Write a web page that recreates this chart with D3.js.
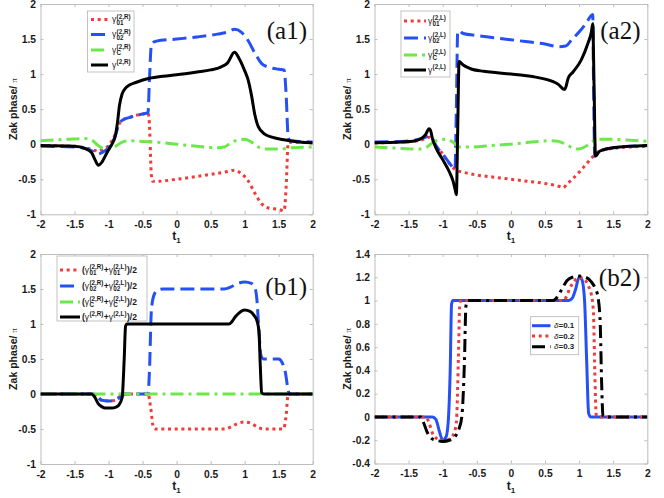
<!DOCTYPE html>
<html>
<head>
<meta charset="utf-8">
<script src="https://cdn.jsdelivr.net/npm/d3@7"></script>
<style>
  body { margin: 0; background: #fff; }
  svg { display: block; }
  .tick text { font-family: "Liberation Sans", Arial, sans-serif; font-weight: bold; font-size: 10.3px; fill: #1a1a1a; }
  .domain, .tick line { stroke: #bdbdbd; }
</style>
</head>
<body>
<script>
// ---- tick labels ----
const xTicks = [-2, -1.5, -1, -0.5, 0, 0.5, 1, 1.5, 2];
const yTicksA = [-1, -0.5, 0, 0.5, 1, 1.5, 2];
const yTicksB2 = [-0.4, -0.2, 0, 0.2, 0.4, 0.6, 0.8, 1, 1.2, 1.4];

// ---- (a1) gamma^(2,R) ----
const a1T01 = [-2, -1.5, -1.3, -1.2, -1.15, -1.1, -1.0, -0.95, -0.9, -0.85, -0.8, -0.7, -0.6, -0.5, -0.42, -0.4, -0.37, -0.35, -0.3, 0, 0.5, 0.75, 0.85, 0.95, 1.05, 1.15, 1.25, 1.35, 1.5, 1.58, 1.61, 1.64, 1.7, 2];
const a1V01 = [-0.02, -0.03, -0.06, -0.09, -0.1, -0.08, -0.02, 0.05, 0.15, 0.28, 0.34, 0.38, 0.41, 0.43, 0.45, 0.3, -0.45, -0.53, -0.53, -0.5, -0.43, -0.39, -0.37, -0.42, -0.52, -0.7, -0.85, -0.91, -0.93, -0.95, -0.6, 0.02, 0.03, 0.02];
const a1T02 = [-2, -1.5, -1.3, -1.2, -1.15, -1.1, -1.0, -0.95, -0.9, -0.85, -0.8, -0.7, -0.6, -0.5, -0.42, -0.4, -0.37, -0.33, -0.3, 0, 0.3, 0.6, 0.75, 0.85, 0.95, 1.05, 1.15, 1.25, 1.35, 1.5, 1.58, 1.61, 1.64, 1.67, 1.8, 2];
const a1V02 = [-0.03, -0.04, -0.07, -0.12, -0.14, -0.12, -0.05, 0.02, 0.12, 0.28, 0.34, 0.38, 0.41, 0.43, 0.45, 0.9, 1.42, 1.46, 1.47, 1.5, 1.53, 1.57, 1.6, 1.64, 1.6, 1.48, 1.3, 1.15, 1.1, 1.07, 1.06, 0.7, 0.1, 0.05, 0.04, 0.03];
const a1TC = [-2, -1.6, -1.35, -1.25, -1.15, -1.05, -1.0, -0.9, -0.8, -0.7, -0.5, -0.3, 0, 0.3, 0.6, 0.7, 0.8, 0.9, 1.0, 1.1, 1.2, 1.3, 1.5, 1.7, 2];
const a1VC = [0.05, 0.07, 0.08, 0.06, -0.02, -0.07, -0.07, -0.03, 0.03, 0.05, 0.04, 0.03, 0.0, -0.03, -0.05, -0.04, 0.02, 0.06, 0.07, 0.03, -0.04, -0.07, -0.07, -0.05, -0.04];
const a1T = [-2, -1.5, -1.35, -1.25, -1.2, -1.15, -1.1, -1.05, -1.0, -0.95, -0.9, -0.87, -0.84, -0.8, -0.75, -0.7, -0.6, -0.4, -0.2, 0, 0.3, 0.5, 0.65, 0.75, 0.85, 0.92, 1.0, 1.05, 1.1, 1.15, 1.2, 1.3, 1.4, 1.6, 1.8, 2];
const a1V = [-0.02, -0.03, -0.06, -0.12, -0.22, -0.3, -0.26, -0.17, -0.08, 0.0, 0.12, 0.3, 0.55, 0.72, 0.8, 0.84, 0.88, 0.94, 0.97, 0.99, 1.03, 1.06, 1.1, 1.16, 1.31, 1.22, 1.05, 0.92, 0.7, 0.42, 0.25, 0.14, 0.1, 0.06, 0.03, 0.02];

// ---- (a2) gamma^(2,L) ----
const a2T01 = [-2, -1.6, -1.35, -1.25, -1.2, -1.15, -1.1, -1.0, -0.9, -0.8, -0.7, -0.5, -0.25, 0, 0.25, 0.5, 0.7, 0.77, 0.82, 0.9, 1.0, 1.1, 1.2, 1.3, 1.5, 2];
const a2V01 = [0.02, 0.03, 0.05, 0.08, 0.1, 0.06, -0.02, -0.14, -0.28, -0.37, -0.4, -0.44, -0.47, -0.5, -0.53, -0.56, -0.6, -0.62, -0.57, -0.5, -0.4, -0.29, -0.18, -0.1, -0.06, -0.03];
const a2T02 = [-2, -1.6, -1.35, -1.25, -1.2, -1.15, -1.1, -1.0, -0.9, -0.82, -0.8, -0.78, -0.76, -0.7, -0.5, -0.25, 0, 0.25, 0.5, 0.7, 0.8, 0.9, 1.0, 1.1, 1.2, 1.21, 1.23, 1.25, 1.3, 1.5, 2];
const a2V02 = [0.03, 0.04, 0.07, 0.1, 0.12, 0.08, -0.02, -0.14, -0.27, -0.36, 0.5, 1.6, 1.62, 1.58, 1.55, 1.52, 1.49, 1.46, 1.43, 1.39, 1.4, 1.5, 1.6, 1.72, 1.85, 1.0, -0.17, -0.15, -0.1, -0.05, -0.02];
const a2TC = [-2, -1.6, -1.35, -1.25, -1.15, -1.05, -0.95, -0.85, -0.75, -0.6, -0.3, 0, 0.3, 0.6, 0.7, 0.8, 0.9, 1.0, 1.1, 1.2, 1.3, 1.5, 1.7, 2];
const a2VC = [-0.04, -0.06, -0.07, -0.05, 0.02, 0.06, 0.07, 0.03, -0.04, -0.04, -0.02, 0.0, 0.03, 0.05, 0.04, 0.0, -0.05, -0.07, -0.03, 0.04, 0.07, 0.07, 0.06, 0.04];
const a2T = [-2, -1.6, -1.4, -1.3, -1.25, -1.2, -1.18, -1.15, -1.1, -1.0, -0.9, -0.85, -0.81, -0.8, -0.78, -0.76, -0.7, -0.6, -0.4, -0.2, 0, 0.2, 0.4, 0.6, 0.7, 0.78, 0.8, 0.84, 0.91, 1.03, 1.13, 1.18, 1.2, 1.22, 1.24, 1.3, 1.5, 2];
const a2V = [0.02, 0.03, 0.05, 0.09, 0.14, 0.22, 0.2, 0.08, -0.05, -0.22, -0.4, -0.52, -0.68, -0.72, 0.2, 1.18, 1.13, 1.08, 1.04, 1.02, 1.0, 0.98, 0.95, 0.9, 0.85, 0.78, 0.8, 0.94, 1.03, 1.2, 1.44, 1.6, 1.72, 0.8, -0.17, -0.1, -0.05, -0.02];

// ---- (b1) averages (R+L)/2 ----
const b1T01 = [-2, -1.25, -1.2, -1.15, -1.1, -1.0, -0.9, -0.85, -0.8, -0.75, -0.42, -0.38, -0.34, -0.3, 0.7, 0.8, 0.9, 1.0, 1.1, 1.2, 1.3, 1.57, 1.61, 1.64, 1.7, 2];
const b1V01 = [0, 0, -0.01, -0.05, -0.09, -0.1, -0.09, -0.05, -0.01, 0, 0, -0.2, -0.48, -0.5, -0.5, -0.47, -0.42, -0.4, -0.42, -0.48, -0.5, -0.5, -0.3, 0, 0, 0];
const b1T02 = [-2, -1.22, -1.15, -1.1, -1.0, -0.9, -0.85, -0.8, -0.75, -0.42, -0.4, -0.37, -0.33, -0.28, -0.2, 0.7, 0.8, 0.9, 1.0, 1.1, 1.15, 1.18, 1.21, 1.24, 1.28, 1.5, 1.55, 1.6, 1.64, 1.66, 2];
const b1V02 = [0, 0, -0.05, -0.09, -0.1, -0.09, -0.06, -0.02, 0, 0, 0.3, 1.2, 1.42, 1.48, 1.5, 1.5, 1.53, 1.58, 1.6, 1.58, 1.52, 1.35, 0.9, 0.55, 0.5, 0.5, 0.45, 0.3, 0.05, 0, 0];
const b1TC = [-2, 2];
const b1VC = [0, 0];
const b1T = [-2, -1.25, -1.2, -1.15, -1.1, -1.05, -1.0, -0.95, -0.9, -0.85, -0.8, -0.77, -0.75, -0.73, 0.72, 0.77, 0.81, 0.86, 0.92, 1.0, 1.08, 1.14, 1.18, 1.21, 1.23, 1.25, 1.28, 2];
const b1V = [0, 0, -0.05, -0.14, -0.18, -0.2, -0.2, -0.2, -0.19, -0.16, -0.05, 0.5, 0.97, 1.0, 1.0, 1.0, 1.03, 1.1, 1.16, 1.2, 1.18, 1.12, 1.05, 0.9, 0.4, 0.02, 0, 0];

// ---- (b2) gamma for several delta ----
const b2T1 = [-2, -1.15, -1.1, -1.05, -1.0, -0.95, -0.92, -0.89, -0.87, -0.85, 0.85, 0.9, 0.95, 1.0, 1.04, 1.08, 1.11, 1.14, 1.17, 2];
const b2V1 = [0, 0, -0.02, -0.12, -0.2, -0.17, -0.05, 0.4, 0.97, 1.0, 1.0, 1.02, 1.1, 1.2, 1.18, 1.0, 0.5, 0.03, 0, 0];
const b2T2 = [-2, -1.25, -1.2, -1.15, -1.1, -1.05, -1.0, -0.95, -0.9, -0.85, -0.8, -0.77, -0.75, -0.73, 0.72, 0.77, 0.81, 0.86, 0.92, 1.0, 1.08, 1.14, 1.18, 1.21, 1.23, 1.25, 1.28, 2];
const b2V2 = [0, 0, -0.05, -0.14, -0.18, -0.2, -0.2, -0.2, -0.19, -0.16, -0.05, 0.5, 0.97, 1.0, 1.0, 1.0, 1.03, 1.1, 1.16, 1.2, 1.18, 1.12, 1.05, 0.9, 0.4, 0.02, 0, 0];
const b2T3 = [-2, -1.32, -1.28, -1.22, -1.15, -1.1, -1.0, -0.9, -0.82, -0.76, -0.72, -0.68, -0.66, -0.63, 0.62, 0.68, 0.75, 0.82, 0.9, 1.0, 1.1, 1.18, 1.24, 1.28, 1.31, 1.33, 1.35, 1.38, 2];
const b2V3 = [0, 0, -0.05, -0.14, -0.19, -0.2, -0.21, -0.2, -0.17, -0.1, 0.0, 0.5, 0.95, 1.0, 1.0, 1.03, 1.1, 1.17, 1.2, 1.21, 1.2, 1.16, 1.1, 1.02, 0.8, 0.3, 0.01, 0, 0];

// ---- styles ----
const RED = '#f23a3a', BLUE = '#2450f5', GREEN = '#6ce84a', BLACK = '#000';
const DOT = '3,3.7', DASH = '14,6', DASHDOT = '13,5,3,5';
const FONT = '"Liberation Sans", Arial, sans-serif';

const W = 664, H = 498;
const svg = d3.select('body').append('svg').attr('width', W).attr('height', H);

// legend label pieces
const sub = (sup, sb) => ({ sup, sub: sb });
const gam = { t: 'γ', plain: true };
const lblRL = (s) => [{ t: '(' }, gam, sub('(2,R)', s), { t: '+' }, gam, sub('(2,L)', s), { t: ')/2' }];

const panels = [
  {
    box: [40.5, 312.7, 4, 214.3], y: [-1, 2], yTicks: yTicksA, tag: '(a1)', tagPos: [307, 38.5],
    series: [
      { t: a1T01, v: a1V01, c: RED, d: DOT, lbl: [gam, sub('(2,R)', '01')] },
      { t: a1T02, v: a1V02, c: BLUE, d: DASH, lbl: [gam, sub('(2,R)', '02')] },
      { t: a1TC, v: a1VC, c: GREEN, d: DASHDOT, lbl: [gam, sub('(2,R)', 'C')] },
      { t: a1T, v: a1V, c: BLACK, d: null, lbl: [gam, sub('(2,R)', null)] },
    ],
    legend: { box: [87.5, 134, 11, 72], line: [91, 108], tx: 112, rows: [19.5, 34.5, 50, 65], fs: 8.5 },
  },
  {
    box: [374.5, 647.3, 4, 214.3], y: [-1, 2], yTicks: yTicksA, tag: '(a2)', tagPos: [640.5, 38.5],
    series: [
      { t: a2T01, v: a2V01, c: RED, d: DOT, lbl: [gam, sub('(2,L)', '01')] },
      { t: a2T02, v: a2V02, c: BLUE, d: DASH, lbl: [gam, sub('(2,L)', '02')] },
      { t: a2TC, v: a2VC, c: GREEN, d: DASHDOT, lbl: [gam, sub('(2,L)', 'C')] },
      { t: a2T, v: a2V, c: BLACK, d: null, lbl: [gam, sub('(2,L)', null)] },
    ],
    legend: { box: [401, 450, 11, 77], line: [404, 426], tx: 428, rows: [21, 38, 55, 70], fs: 8.5 },
  },
  {
    box: [40.5, 312.7, 254, 464], y: [-1, 2], yTicks: yTicksA, tag: '(b1)', tagPos: [307, 294.5],
    series: [
      { t: b1T01, v: b1V01, c: RED, d: DOT, lbl: lblRL('01') },
      { t: b1T02, v: b1V02, c: BLUE, d: DASH, lbl: lblRL('02') },
      { t: b1TC, v: b1VC, c: GREEN, d: DASHDOT, lbl: lblRL('C') },
      { t: b1T, v: b1V, c: BLACK, d: null, lbl: lblRL(null) },
    ],
    legend: { box: [57, 147, 256, 321], line: [60, 80], tx: 82, rows: [270, 286, 302, 317], fs: 8.5 },
  },
  {
    box: [374.5, 647.3, 254, 463.5], y: [-0.4, 1.4], yTicks: yTicksB2, tag: '(b2)', tagPos: [640.5, 286],
    series: [
      { t: b2T1, v: b2V1, c: BLUE, d: null, lbl: [{ t: 'δ', it: true }, { t: '=0.1' }] },
      { t: b2T2, v: b2V2, c: RED, d: DOT, lbl: [{ t: 'δ', it: true }, { t: '=0.2' }] },
      { t: b2T3, v: b2V3, c: BLACK, d: DASHDOT, lbl: [{ t: 'δ', it: true }, { t: '=0.3' }] },
    ],
    legend: { box: [530.5, 578.7, 316.7, 354.7], line: [532, 550.5], tx: 554, rows: [325.7, 336, 346.7], fs: 8 },
  },
];

// lay out a label made of plain pieces and stacked super/subscripts
function richText(g, x, y, parts, fs) {
  let cx = x;
  parts.forEach((p) => {
    if (p.sup !== undefined) {
      let w = 0;
      const small = fs * 0.74;
      if (p.sup) {
        const e = g.append('text').attr('x', cx).attr('y', y - fs * 0.42)
          .attr('font-size', small).attr('font-weight', 'bold').text(p.sup);
        w = Math.max(w, e.node().getComputedTextLength());
      }
      if (p.sub) {
        const e = g.append('text').attr('x', cx).attr('y', y + fs * 0.3)
          .attr('font-size', small).attr('font-weight', 'bold').text(p.sub);
        w = Math.max(w, e.node().getComputedTextLength());
      }
      cx += w + 0.4;
    } else {
      const e = g.append('text').attr('x', cx).attr('y', y)
        .attr('font-size', fs)
        .attr('font-weight', p.plain || p.it ? 'normal' : 'bold')
        .attr('font-style', p.it ? 'italic' : 'normal')
        .text(p.t);
      cx += e.node().getComputedTextLength() + (p.plain ? 0.3 : 0);
    }
  });
}

panels.forEach((p, i) => {
  const [x0, x1, y0, y1] = p.box;
  const sx = d3.scaleLinear().domain([-2, 2]).range([x0, x1]);
  const sy = d3.scaleLinear().domain(p.y).range([y1, y0]);
  const fmt = (d) => String(+d.toFixed(2));

  // axes (ticks point inward, box on all sides)
  svg.append('g').attr('transform', `translate(0,${y1})`)
    .call(d3.axisBottom(sx).tickValues(xTicks).tickFormat(fmt).tickSizeInner(-3).tickSizeOuter(0).tickPadding(6.5));
  svg.append('g').attr('transform', `translate(${x0},0)`)
    .call(d3.axisLeft(sy).tickValues(p.yTicks).tickFormat(fmt).tickSizeInner(-3).tickSizeOuter(0).tickPadding(4.5));
  svg.append('g').attr('transform', `translate(0,${y0})`)
    .call(d3.axisTop(sx).tickValues(xTicks).tickFormat('').tickSizeInner(-3).tickSizeOuter(0));
  svg.append('g').attr('transform', `translate(${x1},0)`)
    .call(d3.axisRight(sy).tickValues(p.yTicks).tickFormat('').tickSizeInner(-3).tickSizeOuter(0));

  // axis titles
  svg.append('text')
    .attr('transform', `translate(${x0 - 24},${(y0 + y1) / 2}) rotate(-90)`)
    .attr('text-anchor', 'middle').attr('font-family', FONT).attr('font-size', 10.5)
    .attr('font-weight', 'bold').attr('fill', '#1a1a1a')
    .call((t) => {
      t.append('tspan').text('Zak phase/ ');
      t.append('tspan').attr('font-weight', 'normal').attr('font-family', '"Liberation Serif", serif')
        .attr('font-size', 9).text('π');
    });
  svg.append('text')
    .attr('x', (x0 + x1) / 2).attr('y', y1 + 26)
    .attr('text-anchor', 'middle').attr('font-family', FONT).attr('font-size', 12)
    .attr('font-weight', 'bold').attr('fill', '#1a1a1a')
    .call((t) => {
      t.append('tspan').text('t');
      t.append('tspan').attr('font-size', 8).attr('dy', 3).text('1');
    });

  // curves
  const clipId = `clip${i}`;
  svg.append('clipPath').attr('id', clipId).append('rect')
    .attr('x', x0).attr('y', y0).attr('width', x1 - x0).attr('height', y1 - y0);
  const line = d3.line().x((d) => sx(d[0])).y((d) => sy(d[1])).curve(d3.curveMonotoneX);
  const gl = svg.append('g').attr('clip-path', `url(#${clipId})`);
  p.series.forEach((s) => {
    gl.append('path')
      .attr('d', line(d3.zip(s.t, s.v)))
      .attr('fill', 'none').attr('stroke', s.c).attr('stroke-width', 3)
      .attr('stroke-dasharray', s.d).attr('stroke-linejoin', 'round');
  });

  // legend
  const L = p.legend;
  const lg = svg.append('g').attr('font-family', FONT).attr('fill', '#1a1a1a');
  lg.append('rect').attr('x', L.box[0]).attr('y', L.box[2])
    .attr('width', L.box[1] - L.box[0]).attr('height', L.box[3] - L.box[2])
    .attr('fill', '#fff').attr('stroke', '#b5b5b5').attr('stroke-width', 0.8);
  p.series.forEach((s, k) => {
    const ry = L.rows[k];
    lg.append('line').attr('x1', L.line[0]).attr('x2', L.line[1]).attr('y1', ry).attr('y2', ry)
      .attr('stroke', s.c).attr('stroke-width', 3).attr('stroke-dasharray', s.d);
    richText(lg, L.tx, ry + L.fs * 0.32, s.lbl, L.fs);
  });

  // panel tag
  svg.append('text').attr('x', p.tagPos[0]).attr('y', p.tagPos[1])
    .attr('text-anchor', 'end').attr('font-family', '"Liberation Serif", "Times New Roman", serif')
    .attr('font-size', 25).attr('fill', '#111').text(p.tag);
});
</script>
</body>
</html>
